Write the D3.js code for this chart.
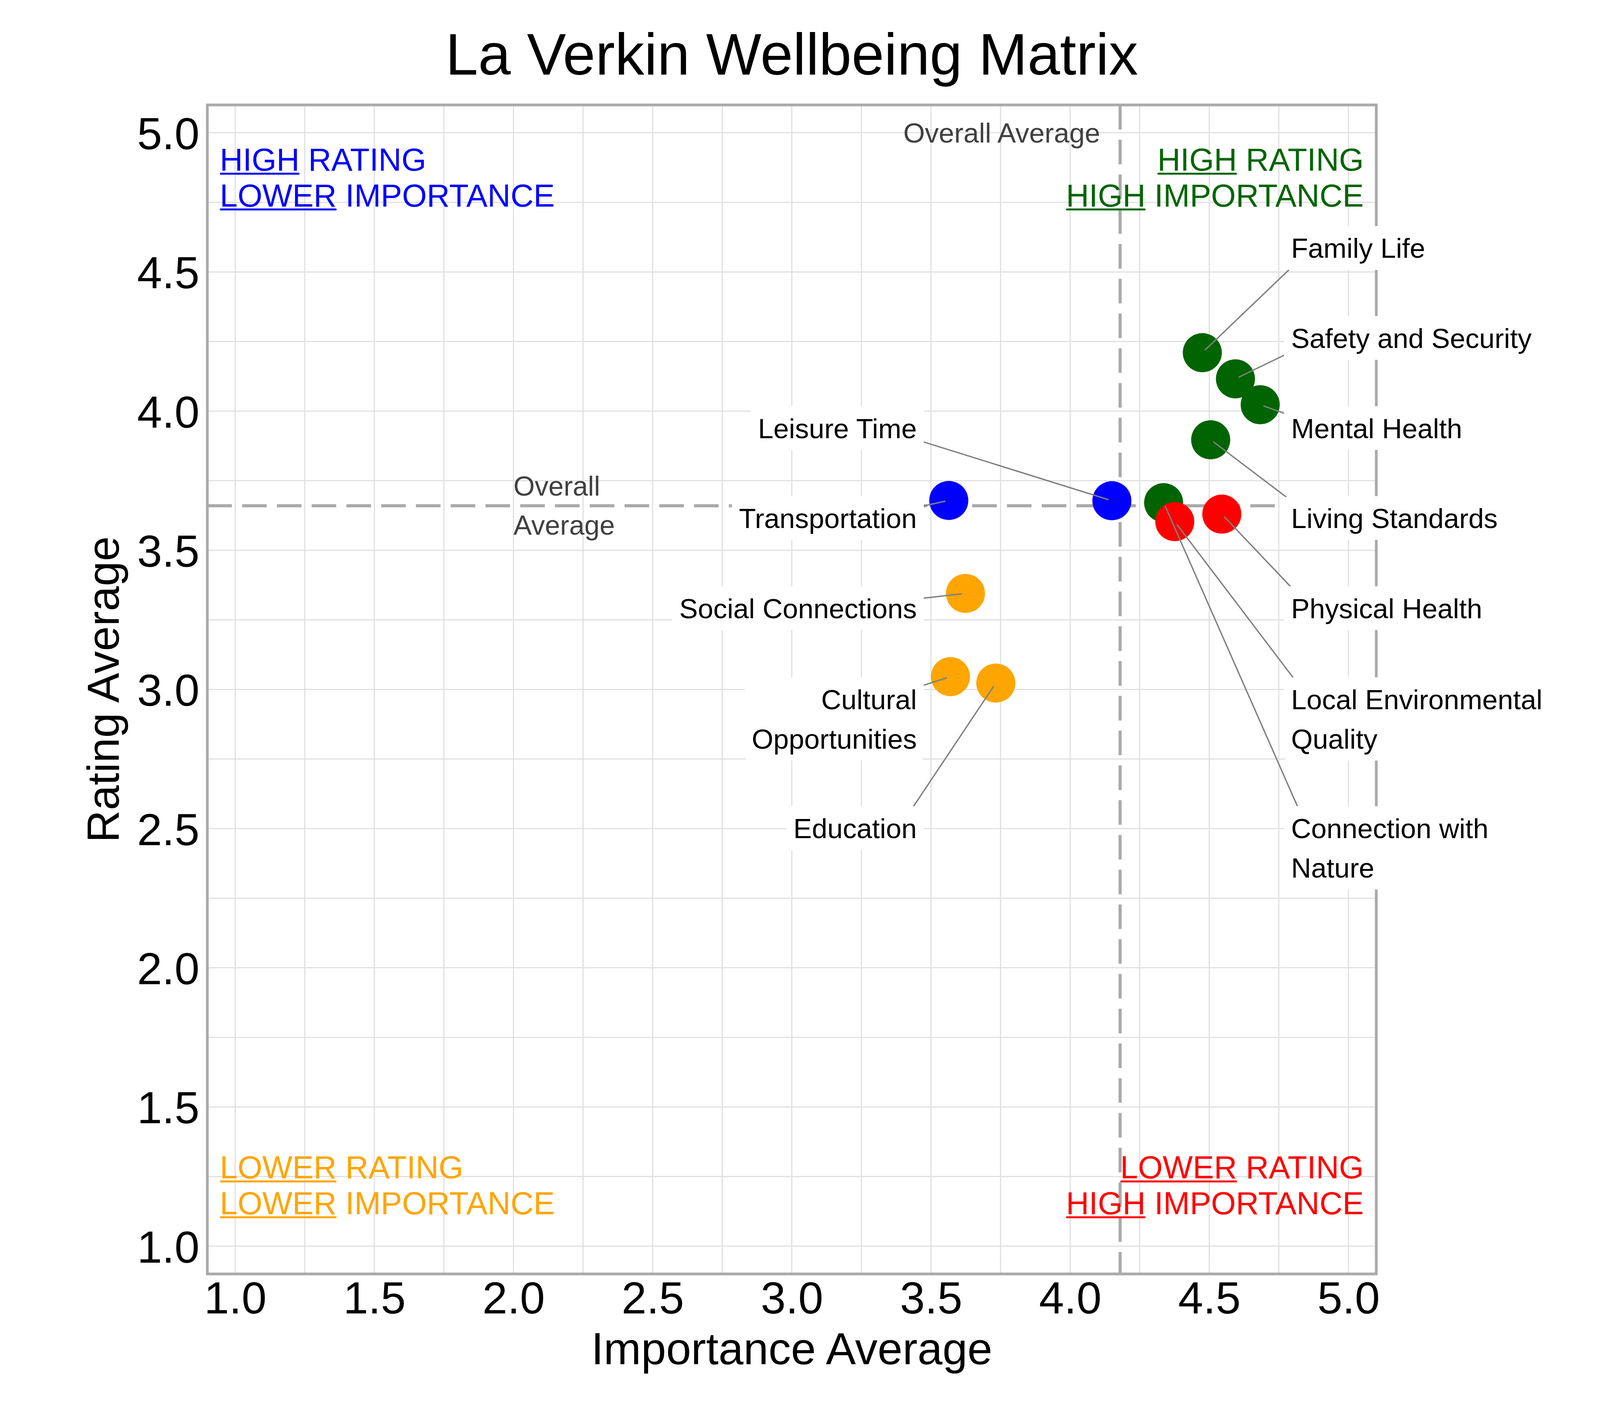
<!DOCTYPE html>
<html>
<head>
<meta charset="utf-8">
<script src="https://cdn.jsdelivr.net/npm/d3@7"></script>
<style>
  html, body { margin: 0; padding: 0; background: #ffffff; }
  svg text { font-family: "Liberation Sans", Arial, Helvetica, sans-serif; }
</style>
</head>
<body>
<svg id="chart" width="4200" height="3600"></svg>
<script>
// ---------------- DATA ----------------
const categories = [
  "Family Life", "Safety and Security", "Mental Health", "Living Standards",
  "Connection with Nature", "Physical Health", "Local Environmental Quality",
  "Leisure Time", "Transportation", "Social Connections",
  "Cultural Opportunities", "Education"
];
const importanceAvg = [4.475, 4.594, 4.683, 4.505, 4.336, 4.545, 4.376, 4.150, 3.564, 3.624, 3.570, 3.733];
const ratingAvg     = [4.210, 4.116, 4.023, 3.897, 3.671, 3.630, 3.603, 3.678, 3.679, 3.345, 3.046, 3.023];
// rating value at which each (repelled) label sits
const labelRating   = [4.586, 4.263, 3.939, 3.616, 2.431, 3.292, 2.894, 3.939, 3.616, 3.292, 2.894, 2.502];

const xTicks = [1.0, 1.5, 2.0, 2.5, 3.0, 3.5, 4.0, 4.5, 5.0];
const yTicks = [1.0, 1.5, 2.0, 2.5, 3.0, 3.5, 4.0, 4.5, 5.0];

const titleText = "La Verkin Wellbeing Matrix";
const xTitle = "Importance Average";
const yTitle = "Rating Average";
const avgLabel = "Overall Average";
const quadrantLines = {
  tl: [["HIGH", " RATING"], ["LOWER", " IMPORTANCE"]],
  tr: [["HIGH", " RATING"], ["HIGH", " IMPORTANCE"]],
  bl: [["LOWER", " RATING"], ["LOWER", " IMPORTANCE"]],
  br: [["LOWER", " RATING"], ["HIGH", " IMPORTANCE"]]
};

// ---------------- SETUP ----------------
const W = 4200, H = 3600;
const FF = "'Liberation Sans', Arial, Helvetica, sans-serif";
const svg = d3.select("#chart");
svg.append("rect").attr("width", W).attr("height", H).attr("fill", "#ffffff");

const x = d3.scaleLinear().domain([0.9, 5.1]).range([530.75, 3523.25]);
const y = d3.scaleLinear().domain([0.9, 5.1]).range([3261.9, 268.7]);

const avgX = d3.mean(importanceAvg);
const avgY = d3.mean(ratingAvg);

const colorFor = (ix, ry) => {
  if (ix >= avgX && ry >= avgY) return "#006400";
  if (ix < avgX && ry >= avgY) return "#0000FF";
  if (ix < avgX && ry < avgY) return "#FFA500";
  return "#FF0000";
};

const data = categories.map((c, i) => ({
  name: c, ix: importanceAvg[i], ry: ratingAvg[i], ly: labelRating[i]
}));

svg.append("defs").append("clipPath").attr("id", "panelClip")
  .append("rect")
  .attr("x", x(0.9)).attr("y", y(5.1))
  .attr("width", x(5.1) - x(0.9)).attr("height", y(0.9) - y(5.1));

// ---------------- GRID ----------------
const gridBreaks = d3.range(1, 5.0001, 0.25);
const gridG = svg.append("g");
gridG.selectAll("line.gx").data(gridBreaks).join("line")
  .attr("class", "gx")
  .attr("x1", d => x(d)).attr("x2", d => x(d))
  .attr("y1", y(5.1)).attr("y2", y(0.9))
  .attr("stroke", "#DEDEDE").attr("stroke-width", 2.8);
gridG.selectAll("line.gy").data(gridBreaks).join("line")
  .attr("class", "gy")
  .attr("y1", d => y(d)).attr("y2", d => y(d))
  .attr("x1", x(0.9)).attr("x2", x(5.1))
  .attr("stroke", "#DEDEDE").attr("stroke-width", 2.8);

// ---------------- AVERAGE LINES ----------------
const avgG = svg.append("g").attr("clip-path", "url(#panelClip)");
avgG.append("line")
  .attr("x1", x(avgX)).attr("x2", x(avgX))
  .attr("y1", y(5.1)).attr("y2", y(0.9))
  .attr("stroke", "#AAAAAA").attr("stroke-width", 8)
  .attr("stroke-dasharray", "63,26");
avgG.append("line")
  .attr("x1", x(0.9)).attr("x2", x(5.1))
  .attr("y1", y(avgY)).attr("y2", y(avgY))
  .attr("stroke", "#AAAAAA").attr("stroke-width", 8)
  .attr("stroke-dasharray", "63,26");

// "Overall Average" annotations
svg.append("text")
  .attr("x", x(4.108)).attr("y", y(5.0) + 25.5)
  .attr("text-anchor", "end")
  .attr("font-size", 71).attr("fill", "#404040")
  .text(avgLabel);
const avgLeft = svg.append("text")
  .attr("font-size", 70).attr("fill", "#404040");
avgLabel.split(" ").forEach((w, k) => {
  avgLeft.append("tspan")
    .attr("x", x(2.0))
    .attr("y", y(avgY) - 25.7 + k * 100)
    .text(w);
});

// ---------------- QUADRANT LABELS ----------------
const quadDefs = [
  { key: "tl", color: "#0000FF", xv: 0.945, anchor: "start", base: [4.8636, 4.7352] },
  { key: "tr", color: "#006400", xv: 5.055, anchor: "end",   base: [4.8636, 4.7352] },
  { key: "bl", color: "#FFA500", xv: 0.945, anchor: "start", base: [1.2431, 1.1145] },
  { key: "br", color: "#FF0000", xv: 5.055, anchor: "end",   base: [1.2431, 1.1145] }
];
const quadG = svg.append("g");
quadDefs.forEach(q => {
  quadrantLines[q.key].forEach((parts, k) => {
    const by = y(q.base[k]);
    const t = quadG.append("text")
      .attr("font-size", 81.5).attr("fill", q.color)
      .attr("y", by)
      .text(parts[0] + parts[1]);
    const total = t.node().getComputedTextLength();
    const wlen = t.node().getSubStringLength(0, parts[0].length);
    const x0 = q.anchor === "start" ? x(q.xv) : x(q.xv) - total;
    t.attr("x", x0);
    quadG.append("line")
      .attr("x1", x0 + 2.5).attr("x2", x0 + wlen - 2.5)
      .attr("y1", by + 7.6).attr("y2", by + 7.6)
      .attr("stroke", q.color).attr("stroke-width", 5)
      .attr("stroke-linecap", "round");
  });
});

// ---------------- POINTS ----------------
const pointG = svg.append("g");
pointG.selectAll("circle").data(data).join("circle")
  .attr("cx", d => x(d.ix)).attr("cy", d => y(d.ry))
  .attr("r", 50)
  .attr("fill", d => colorFor(d.ix, d.ry));

// ---------------- PANEL BORDER ----------------
svg.append("rect")
  .attr("x", x(0.9)).attr("y", y(5.1))
  .attr("width", x(5.1) - x(0.9)).attr("height", y(0.9) - y(5.1))
  .attr("fill", "none").attr("stroke", "#AAAAAA").attr("stroke-width", 7);

// ---------------- LABELS (repel-style) ----------------
const segG = svg.append("g");
const labG = svg.append("g");

function wrap(str, width) {
  const words = str.split(" ");
  const lines = [];
  let cur = "";
  words.forEach(w => {
    if (cur === "") cur = w;
    else if ((cur + " " + w).length <= width) cur += " " + w;
    else { lines.push(cur); cur = w; }
  });
  if (cur) lines.push(cur);
  return lines;
}

const LABEL_FS = 71, LINE_GAP = 101, CAP_HALF = 25.4, PAD_X = 18, PAD_Y = 56;
const rightColumn = 4.794, leftColumn = 3.449;

data.forEach(d => {
  const right = d.ix >= avgX;
  const lines = wrap(d.name, 20);
  const center = y(d.ly);
  const n = lines.length;
  const g = labG.append("g");
  const rect = g.append("rect").attr("fill", "#ffffff").attr("rx", 12).attr("ry", 12);
  const t = g.append("text").attr("font-size", LABEL_FS).attr("fill", "#000000")
    .attr("text-anchor", right ? "start" : "end");
  const ax = right ? x(rightColumn) : x(leftColumn);
  let maxW = 0;
  lines.forEach((ln, k) => {
    const capC = center + (k - (n - 1) / 2) * LINE_GAP;
    const ts = t.append("tspan").attr("x", ax).attr("y", capC + CAP_HALF).text(ln);
    maxW = Math.max(maxW, ts.node().getComputedTextLength());
  });
  const bx1 = right ? ax - PAD_X : ax - maxW - PAD_X;
  const bx2 = right ? ax + maxW + PAD_X : ax + PAD_X;
  const by1 = center - (n - 1) / 2 * LINE_GAP - PAD_Y;
  const by2 = center + (n - 1) / 2 * LINE_GAP + PAD_Y;
  rect.attr("x", bx1).attr("y", by1).attr("width", bx2 - bx1).attr("height", by2 - by1);

  // segment from point toward nearest point of an inset label box (box hides the end)
  const px = x(d.ix), py = y(d.ry);
  const ex = Math.max(bx1 + 50, Math.min(bx2 - 50, px));
  const ey = Math.max(by1 + 36, Math.min(by2 - 36, py));
  const len = Math.hypot(ex - px, ey - py);
  const sx = px + (ex - px) / len * 9, sy = py + (ey - py) / len * 9;
  segG.append("line")
    .attr("x1", sx).attr("y1", sy).attr("x2", ex).attr("y2", ey)
    .attr("stroke", "#808080").attr("stroke-width", 3.5);
});

// ---------------- AXES ----------------
const xAxis = d3.axisBottom(x).tickValues(xTicks).tickFormat(d3.format(".1f"))
  .tickSize(0).tickPadding(19.7);
const xg = svg.append("g").attr("transform", `translate(0,${y(0.9)})`).call(xAxis);
xg.select(".domain").remove();
xg.attr("font-size", 115).attr("font-family", FF);
xg.selectAll("text").attr("fill", "#000000");

const yAxis = d3.axisLeft(y).tickValues(yTicks).tickFormat(d3.format(".1f"))
  .tickSize(0).tickPadding(20);
const yg = svg.append("g").attr("transform", `translate(${x(0.9)},0)`).call(yAxis);
yg.select(".domain").remove();
yg.attr("font-size", 115).attr("font-family", FF);
yg.selectAll("text").attr("fill", "#000000").attr("dy", "0.36em");

// ---------------- TITLES ----------------
const panelCX = (x(0.9) + x(5.1)) / 2;
const panelCY = (y(0.9) + y(5.1)) / 2;
svg.append("text")
  .attr("x", panelCX).attr("y", 190.7)
  .attr("text-anchor", "middle").attr("font-size", 150).attr("fill", "#000000")
  .text(titleText);
svg.append("text")
  .attr("x", panelCX).attr("y", 3492.7)
  .attr("text-anchor", "middle").attr("font-size", 115).attr("fill", "#000000")
  .text(xTitle);
svg.append("text")
  .attr("transform", `translate(304,${panelCY}) rotate(-90)`)
  .attr("text-anchor", "middle").attr("font-size", 115).attr("fill", "#000000")
  .text(yTitle);
</script>
</body>
</html>
